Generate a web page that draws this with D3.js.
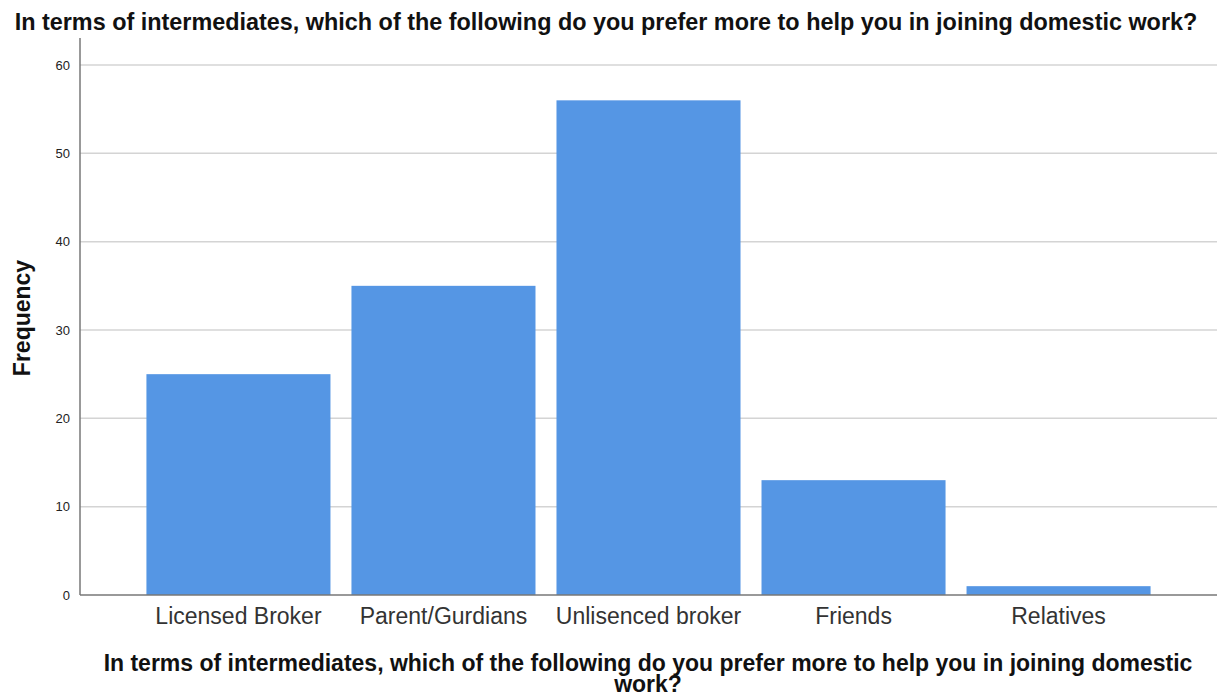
<!DOCTYPE html>
<html>
<head>
<meta charset="utf-8">
<script src="https://cdn.jsdelivr.net/npm/d3@7"></script>
<style>
  body { margin: 0; background: #fff; }
  svg text { font-family: "Liberation Sans", Arial, sans-serif; }
</style>
</head>
<body>
<svg id="chart" width="1221" height="698"></svg>
<script>
var categories = ["Licensed Broker", "Parent/Gurdians", "Unlisenced broker", "Friends", "Relatives"];
var frequencies = [25, 35, 56, 13, 1];
var yTicks = [0, 10, 20, 30, 40, 50, 60];
var chartTitle = "In terms of intermediates, which of the following do you prefer more to help you in joining domestic work?";
var xTitleLines = ["In terms of intermediates, which of the following do you prefer more to help you in joining domestic", "work?"];

var svg = d3.select("#chart");
var plotLeft = 80, plotRight = 1217, plotTop = 38, plotBottom = 595;

var x = d3.scaleBand()
  .domain(categories)
  .range([plotLeft, plotRight])
  .paddingInner(0.1024)
  .paddingOuter(0.324);

var y = d3.scaleLinear()
  .domain([0, 60])
  .range([plotBottom, 65]);

// gridlines
svg.append("g")
  .selectAll("line")
  .data(yTicks.filter(function(d){ return d > 0; }))
  .enter().append("line")
  .attr("x1", plotLeft).attr("x2", plotRight)
  .attr("y1", function(d){ return y(d); })
  .attr("y2", function(d){ return y(d); })
  .attr("stroke", "#d4d4d4")
  .attr("stroke-width", 1.5);

// bars
svg.append("g")
  .selectAll("rect")
  .data(categories)
  .enter().append("rect")
  .attr("x", function(d){ return x(d); })
  .attr("width", x.bandwidth())
  .attr("y", function(d, i){ return y(frequencies[i]); })
  .attr("height", function(d, i){ return y(0) - y(frequencies[i]); })
  .attr("fill", "#5596e4");

// y axis
var yAxis = svg.append("g")
  .attr("transform", "translate(" + plotLeft + ",0)")
  .call(d3.axisLeft(y).tickValues(yTicks).tickSize(0).tickPadding(10));
yAxis.select(".domain").remove();
yAxis.selectAll("text")
  .attr("font-size", 13)
  .attr("fill", "#222")
  .style("font-family", "'Liberation Sans', Arial, sans-serif");

// x axis
var xAxis = svg.append("g")
  .attr("transform", "translate(0," + plotBottom + ")")
  .call(d3.axisBottom(x).tickSize(0).tickPadding(13));
xAxis.select(".domain").remove();
xAxis.selectAll("text")
  .attr("font-size", 23)
  .attr("fill", "#333")
  .style("font-family", "'Liberation Sans', Arial, sans-serif");

// axis lines
svg.append("line")
  .attr("x1", plotLeft).attr("x2", plotLeft)
  .attr("y1", plotTop).attr("y2", plotBottom)
  .attr("stroke", "#777").attr("stroke-width", 1.5);
svg.append("line")
  .attr("x1", plotLeft).attr("x2", plotRight)
  .attr("y1", plotBottom).attr("y2", plotBottom)
  .attr("stroke", "#777").attr("stroke-width", 1.5);

// titles
svg.append("text")
  .attr("x", 606).attr("y", 30)
  .attr("text-anchor", "middle")
  .attr("font-size", 23.4)
  .attr("font-weight", "bold")
  .attr("fill", "#111")
  .text(chartTitle);

svg.append("text")
  .attr("transform", "translate(30,318) rotate(-90)")
  .attr("text-anchor", "middle")
  .attr("font-size", 23)
  .attr("font-weight", "bold")
  .attr("fill", "#111")
  .text("Frequency");

svg.append("text")
  .attr("text-anchor", "middle")
  .attr("font-size", 23)
  .attr("font-weight", "bold")
  .attr("fill", "#111")
  .selectAll("tspan")
  .data(xTitleLines)
  .enter().append("tspan")
  .attr("x", 648)
  .attr("y", function(d, i){ return 671 + i * 21; })
  .text(function(d){ return d; });
</script>
</body>
</html>
